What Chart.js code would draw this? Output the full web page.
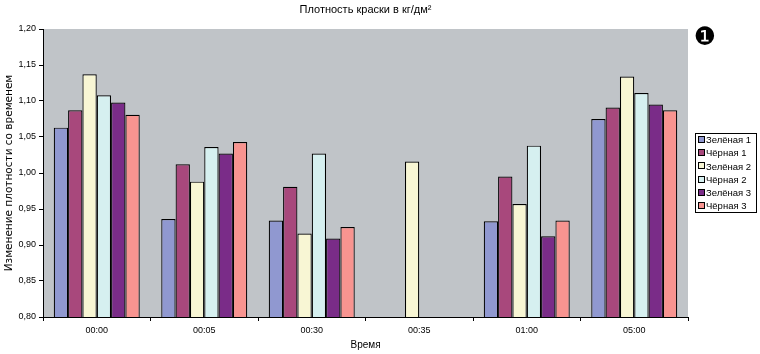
<!DOCTYPE html>
<html>
<head>
<meta charset="utf-8">
<script src="https://cdn.jsdelivr.net/npm/chart.js@4/dist/chart.umd.min.js"></script>
<style>
html,body{margin:0;padding:0;background:#fff;}
#wrap{position:relative;width:760px;height:354px;}
</style>
</head>
<body>
<div id="wrap"><canvas id="c" width="760" height="354"></canvas></div>
<script>
const categories = ["00:00", "00:05", "00:30", "00:35", "01:00", "05:00"];
const seriesNames = ["Зелёная 1", "Чёрная 1", "Зелёная 2", "Чёрная 2", "Зелёная 3", "Чёрная 3"];
const zel1 = [1.063, 0.936, 0.934, null, 0.933, 1.075];
const cher1 = [1.087, 1.012, 0.981, null, 0.995, 1.091];
const zel2 = [1.137, 0.988, 0.916, 1.016, 0.957, 1.134];
const cher2 = [1.108, 1.036, 1.027, null, 1.038, 1.111];
const zel3 = [1.098, 1.027, 0.909, null, 0.912, 1.095];
const cher3 = [1.081, 1.043, 0.925, null, 0.934, 1.087];
const colors = ["#9098D0", "#A8487C", "#F8F6D4", "#D6F0F0", "#7A2C88", "#F89490"];
const titleText = "Плотность краски в кг/дм²";
const yTitle = "Изменение плотности со временем";
const xTitle = "Время";
const badge = "❶";

const allSeries = [zel1, cher1, zel2, cher2, zel3, cher3];
const datasets = allSeries.map((d, i) => ({
  label: seriesNames[i],
  data: d,
  backgroundColor: colors[i],
  borderColor: "#000",
  borderWidth: 1.2,
  borderSkipped: "bottom",
  categoryPercentage: 0.8,
  barPercentage: 1.0
}));

const FONT = "'Liberation Sans', Arial, sans-serif";

const extras = {
  id: "extras",
  beforeDraw(chart) {
    const {ctx, chartArea: a} = chart;
    ctx.save();
    ctx.fillStyle = "#C0C4C8";
    ctx.fillRect(a.left, a.top, a.right - a.left, a.bottom - a.top);
    ctx.restore();
  },
  afterDraw(chart) {
    const {ctx, chartArea: a} = chart;
    ctx.save();
    // title
    ctx.fillStyle = "#000";
    ctx.font = "11px " + FONT;
    ctx.textAlign = "center";
    ctx.textBaseline = "middle";
    ctx.fillText(titleText, (a.left + a.right) / 2, 10);
    // badge
    ctx.font = "25px 'DejaVu Sans'";
    ctx.fillText(badge, 705, 38);
    // legend
    const lx = 695.5, ly = 133.5, lw = 61, lh = 79;
    ctx.fillStyle = "#fff";
    ctx.fillRect(lx, ly, lw, lh);
    ctx.strokeStyle = "#000";
    ctx.lineWidth = 1;
    ctx.strokeRect(lx, ly, lw, lh);
    ctx.font = "9.5px " + FONT;
    ctx.textAlign = "left";
    chart.data.datasets.forEach((ds, i) => {
      const y = 140 + i * 13.2;
      ctx.fillStyle = ds.backgroundColor;
      ctx.fillRect(698.5, Math.round(y) - 3.5, 6, 6);
      ctx.strokeRect(698.5, Math.round(y) - 3.5, 6, 6);
      ctx.fillStyle = "#000";
      ctx.fillText(ds.label, 706, y + 0.5);
    });
    ctx.restore();
  }
};

new Chart(document.getElementById("c"), {
  type: "bar",
  data: { labels: categories, datasets },
  options: {
    responsive: false,
    animation: false,
    layout: { padding: { top: 29, right: 72, left: 0, bottom: 0 } },
    plugins: { legend: { display: false }, title: { display: false }, tooltip: { enabled: false } },
    scales: {
      x: {
        offset: true,
        grid: { display: true, offset: true, drawOnChartArea: false, tickLength: 4, color: "#000", lineWidth: 1 },
        border: { display: true, color: "#000", width: 1 },
        ticks: { color: "#000", font: { family: FONT, size: 9 }, padding: 4, maxRotation: 0 },
        title: { display: true, text: xTitle, color: "#000", font: { family: FONT, size: 10 }, padding: { top: 0, bottom: 3 } },
        afterFit(s) { s.height = 37; }
      },
      y: {
        min: 0.8,
        max: 1.2,
        grid: { display: true, drawOnChartArea: false, tickLength: 4, color: "#000", lineWidth: 1 },
        border: { display: true, color: "#000", width: 1 },
        ticks: {
          stepSize: 0.05,
          color: "#000",
          font: { family: FONT, size: 9 },
          padding: 3,
          callback: v => v.toFixed(2).replace(".", ",")
        },
        title: { display: true, text: yTitle, color: "#000", font: { family: "'DejaVu Sans', sans-serif", size: 10.5 }, padding: { top: 3, bottom: 0 } },
        afterFit(s) { s.width = 43; }
      }
    }
  },
  plugins: [extras]
});
</script>
</body>
</html>
